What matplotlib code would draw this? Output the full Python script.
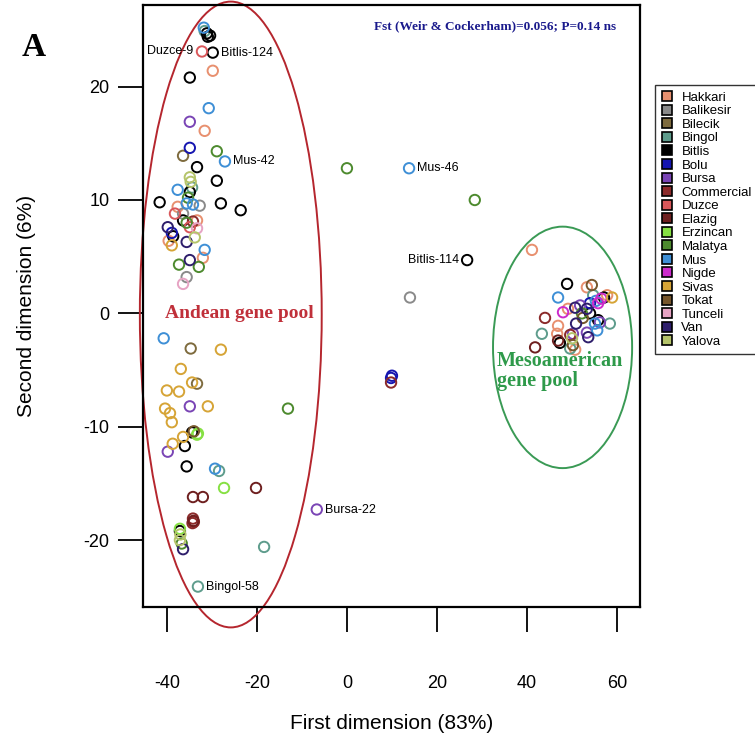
import matplotlib
matplotlib.use("Agg")
import matplotlib.pyplot as plt
from matplotlib.patches import Ellipse
from matplotlib.lines import Line2D

# Population names and ring colours
populations = ["Hakkari", "Balikesir", "Bilecik", "Bingol", "Bitlis", "Bolu", "Bursa",
               "Commercial", "Duzce", "Elazig", "Erzincan", "Malatya", "Mus", "Nigde",
               "Sivas", "Tokat", "Tunceli", "Van", "Yalova"]
colors = ["#E8906F", "#8A8A8A", "#7E6B3E", "#5E9C8C", "#000000", "#1515B0", "#7A45B5",
          "#8B2A2A", "#D9575A", "#6E1F1F", "#86E043", "#4D8A2E", "#3E8FD6", "#CC2BCC",
          "#D6A436", "#76562C", "#E6A3C3", "#2E1E6B", "#B5C46A"]

# PCoA coordinates per accession (first and second dimension)
hakkari_x = [-29.8, -31.6, -37.6, -33.3, -39.6, -32.0, 41.1, 53.3, 57.8, 49.1, 46.9, 46.7, 50.7]
hakkari_y = [21.4, 16.1, 9.4, 8.2, 6.4, 4.9, 5.6, 2.3, 1.6, 0.4, -1.1, -1.8, -3.2]
balikesir_x = [-32.7, -36.4, -35.6, 14.0]
balikesir_y = [9.5, 8.8, 3.2, 1.4]
bilecik_x = [-36.4, -34.7, -33.3]
bilecik_y = [13.9, -3.1, -6.2]
bingol_x = [-31.6, -34.4, -28.4, -18.4, -33.1, 54.7, 58.4, 43.3, 49.6]
bingol_y = [24.9, 11.1, -13.9, -20.6, -24.1, 1.6, -0.9, -1.8, -3.1]
bitlis_x = [-31.1, -30.9, -30.4, -29.8, -34.9, -33.3, -28.9, -34.9, -41.6, -28.0, -23.6,
            -36.4, -38.6, -34.4, -36.0, -35.6, -37.1, 26.7, 48.9, 57.1, 54.0, 55.8, 47.3]
bitlis_y = [24.7, 24.4, 24.5, 23.0, 20.8, 12.9, 11.7, 10.7, 9.8, 9.7, 9.1,
            8.2, 6.8, -10.5, -11.7, -13.5, -19.2, 4.7, 2.6, 1.4, 0.0, -0.6, -2.6]
bolu_x = [-34.9, -38.9, 10.0, 9.8, 54.0]
bolu_y = [14.6, 7.1, -5.5, -5.7, 0.9]
bursa_x = [-34.9, -34.9, -39.8, -6.7, 51.8, 56.2, 50.2, 53.3]
bursa_y = [16.9, -8.2, -12.2, -17.3, 0.7, -0.8, -1.8, -1.7]
commercial_x = [-34.2, 9.8, -34.2, -34.0, -34.3, 44.0, 49.6]
commercial_y = [8.1, -6.1, -18.1, -18.4, -18.5, -0.4, -1.9]
duzce_x = [-32.2, -38.2, -34.9]
duzce_y = [23.1, 8.8, 7.6]
elazig_x = [-20.2, -34.2, -32.0, -34.1, 46.9, 41.8]
elazig_y = [-15.4, -16.2, -16.2, -18.3, -2.4, -3.0]
erzincan_x = [-33.3, -27.3, -37.1, -33.1]
erzincan_y = [-10.7, -15.4, -19.0, -10.6]
malatya_x = [-28.9, -35.3, -35.6, -37.3, -32.9, 0.0, 28.4, -13.1, -36.7, 52.2]
malatya_y = [14.3, 10.2, 8.0, 4.3, 4.1, 12.8, 10.0, -8.4, -20.3, 0.0]
mus_x = [-31.8, -30.7, -27.1, -37.6, -35.6, -34.2, -31.6, -40.7, -29.3, 13.8, 46.9, 55.3, 55.1, 55.6]
mus_y = [25.2, 18.1, 13.4, 10.9, 9.7, 9.6, 5.6, -2.2, -13.7, 12.8, 1.4, 1.1, -0.9, -1.5]
nigde_x = [55.8, 48.0, 56.5]
nigde_y = [0.9, 0.1, 1.3]
sivas_x = [-38.9, -28.0, -36.9, -34.4, -40.0, -37.3, -40.4, -30.9, -39.3, -38.9, -36.4, -38.7, 58.9]
sivas_y = [6.0, -3.2, -4.9, -6.1, -6.8, -6.9, -8.4, -8.2, -8.8, -9.6, -10.9, -11.5, 1.4]
tokat_x = [54.4, 52.4, 50.2, -34.0]
tokat_y = [2.5, -0.4, -2.8, -10.4]
tunceli_x = [-33.3, -36.4]
tunceli_y = [7.5, 2.6]
van_x = [-39.8, -35.6, -34.9, -36.4, 53.3, 50.9, 53.6, 50.7]
van_y = [7.6, 6.3, 4.7, -20.8, 0.4, -0.9, -2.1, 0.5]
yalova_x = [-34.9, -34.7, -33.8, -37.1, 50.0, -37.0]
yalova_y = [12.0, 11.6, 6.7, -20.0, -2.2, -19.5]

coords = {
    "Hakkari": (hakkari_x, hakkari_y), "Balikesir": (balikesir_x, balikesir_y),
    "Bilecik": (bilecik_x, bilecik_y), "Bingol": (bingol_x, bingol_y),
    "Bitlis": (bitlis_x, bitlis_y), "Bolu": (bolu_x, bolu_y),
    "Bursa": (bursa_x, bursa_y), "Commercial": (commercial_x, commercial_y),
    "Duzce": (duzce_x, duzce_y), "Elazig": (elazig_x, elazig_y),
    "Erzincan": (erzincan_x, erzincan_y), "Malatya": (malatya_x, malatya_y),
    "Mus": (mus_x, mus_y), "Nigde": (nigde_x, nigde_y), "Sivas": (sivas_x, sivas_y),
    "Tokat": (tokat_x, tokat_y), "Tunceli": (tunceli_x, tunceli_y),
    "Van": (van_x, van_y), "Yalova": (yalova_x, yalova_y),
}

# Named accessions
label_names = ["Duzce-9", "Bitlis-124", "Mus-42", "Mus-46", "Bitlis-114", "Bursa-22", "Bingol-58"]
label_x = [-32.2, -29.8, -27.1, 13.8, 26.7, -6.7, -33.1]
label_y = [23.1, 23.0, 13.4, 12.8, 4.7, -17.3, -24.1]
label_side = ["left", "right", "right", "right", "left", "right", "right"]

x_ticks = [-40, -20, 0, 20, 40, 60]
y_ticks = [-20, -10, 0, 10, 20]

fig = plt.figure(figsize=(7.55, 7.46), dpi=100)
ax = fig.add_axes([143 / 755, 1 - 607 / 746, 497 / 755, 602 / 746])

for name, col in zip(populations, colors):
    xs, ys = coords[name]
    ax.scatter(xs, ys, s=56, facecolors="none", edgecolors=col, linewidths=1.4, zorder=3)

for name, x, y, side in zip(label_names, label_x, label_y, label_side):
    off = 6 if side == "right" else -6
    ax.annotate(name, (x, y), xytext=(off, 0), textcoords="offset points",
                ha="left" if side == "right" else "right", va="center",
                fontsize=9, family="Liberation Sans")

# Gene pool ellipses
ax.add_patch(Ellipse((-25.8, -0.1), 40.4, 55.2, fill=False, edgecolor="#B5262E",
                     linewidth=1.4, clip_on=False, zorder=2))
ax.add_patch(Ellipse((47.9, -3.0), 30.9, 21.3, fill=False, edgecolor="#3A9A55",
                     linewidth=1.4, clip_on=False, zorder=2))

ax.text(-40.5, 0.0, "Andean gene pool", color="#C0303A", fontsize=14,
        fontweight="bold", family="Liberation Serif", ha="left", va="center")
ax.text(33.3, -5.1, "Mesoamerican\ngene pool", color="#2E9A4A", fontsize=14.5,
        fontweight="bold", family="Liberation Serif", ha="left", va="center",
        linespacing=1.0)
ax.text(0.465, 0.965, "Fst (Weir & Cockerham)=0.056; P=0.14 ns", transform=ax.transAxes,
        color="#1A1A8C", fontsize=9.5, fontweight="bold", family="Liberation Serif",
        ha="left", va="center")

ax.set_xlim(-45.3, 65.1)
ax.set_ylim(-25.9, 27.2)
ax.set_xticks(x_ticks)
ax.set_yticks(y_ticks)
ax.set_xticklabels([str(v) for v in x_ticks], family="Liberation Sans", fontsize=13)
ax.set_yticklabels([str(v) for v in y_ticks], family="Liberation Sans", fontsize=13)
ax.tick_params(axis="x", length=18, width=1.3, pad=31)
ax.tick_params(axis="y", length=18, width=1.3, pad=6)
for sp in ax.spines.values():
    sp.set_linewidth(1.6)

ax.set_xlabel("First dimension (83%)", family="Liberation Sans", fontsize=15, labelpad=16)
ax.set_ylabel("Second dimension (6%)", family="Liberation Sans", fontsize=15, labelpad=34)

fig.text(22 / 755, 1 - 47 / 746, "A", fontsize=24, fontweight="bold",
         family="Liberation Serif", ha="left", va="center")

handles = [Line2D([0], [0], marker="s", linestyle="none", markersize=7,
                  markerfacecolor=c, markeredgecolor="black", markeredgewidth=1.2)
           for c in colors]
leg = fig.legend(handles, populations, loc="upper left",
                 bbox_to_anchor=(655 / 755, 1 - 85 / 746), frameon=True, fancybox=False,
                 edgecolor="black", handlelength=0.8, handletextpad=0.7,
                 labelspacing=0.1, borderpad=0.5, borderaxespad=0,
                 prop={"family": "Liberation Sans", "size": 9.5})
leg.get_frame().set_linewidth(1.0)

fig.savefig("out.png", dpi=100)
